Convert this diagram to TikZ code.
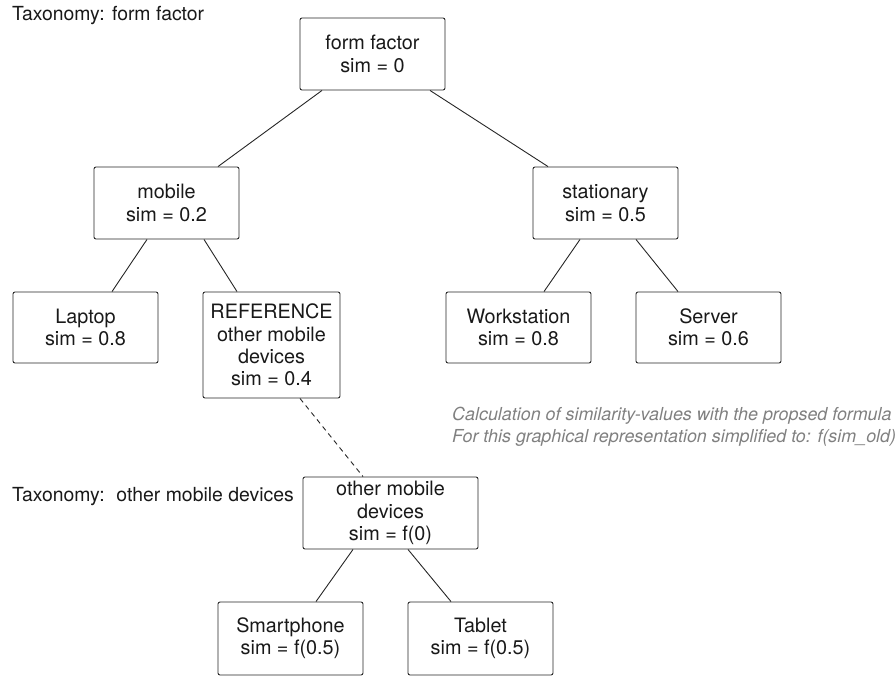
\documentclass[tikz,border=0pt]{standalone}
\usepackage{fontspec}
\setmainfont{TeX Gyre Heros}
\usetikzlibrary{calc}
\begin{document}
\begin{tikzpicture}[x=1pt,y=-1pt,
  box/.style={draw=black!85, line width=0.9pt, rounded corners=2pt, align=center, inner sep=0pt,
    font=\fontsize{19.8}{22.3}\selectfont, text=black!90, minimum width=145pt, minimum height=72pt},
  edge/.style={draw=black!85, line width=0.9pt},
  lbl/.style={anchor=west, inner sep=0pt, text=black!90, font=\fontsize{19.4}{21}\selectfont},
  note/.style={anchor=west, inner sep=0pt, align=left, text=black!50, font=\fontsize{17.9}{22}\selectfont\itshape}]
\useasboundingbox (0,0) rectangle (896,678);

\node[box] (ff) at (372.5,54) {form factor\\sim = 0};
\node[box] (mobile) at (166.5,203) {mobile\\sim = 0.2};
\node[box] (stat) at (605.5,203) {stationary\\sim = 0.5};
\node[box, minimum height=71pt] (laptop) at (85.5,327.5) {Laptop\\sim = 0.8};
\node[box, minimum width=137pt, minimum height=106pt] (ref) at (271.5,345) {REFERENCE\\other mobile\\devices\\sim = 0.4};
\node[box, minimum height=71pt] (work) at (518.5,327.5) {Workstation\\sim = 0.8};
\node[box, minimum height=71pt] (server) at (708.5,327.5) {Server\\sim = 0.6};
\node[box, minimum width=175pt] (omd) at (390.5,513) {other mobile\\devices\\sim = f(0)};
\node[box, minimum height=73pt] (smart) at (290.5,638.5) {Smartphone\\sim = f(0.5)};
\node[box, minimum height=73pt] (tablet) at (480.5,638.5) {Tablet\\sim = f(0.5)};

\node[lbl] (t1) at (12,16) {Taxonomy: form factor};
\node[lbl] (t2) at (12,497) {Taxonomy:\hspace{0.6em}other mobile devices};
\node[note] (n1) at (452,427) {Calculation of similarity-values with the propsed formula\\For this graphical representation simplified to: f(sim\_old)};

\draw[edge] ($(ff.south)+(-50.5,0)$) -- ($(mobile.north)+(51.5,0)$);
\draw[edge] ($(ff.south)+(57.5,0)$) -- ($(stat.north)+(-57.5,0)$);
\draw[edge] ($(mobile.south)+(-19.5,0)$) -- ($(laptop.north)+(26.5,0)$);
\draw[edge] ($(mobile.south)+(37.5,0)$) -- ($(ref.north)+(-34.5,0)$);
\draw[edge] ($(stat.south)+(-25.5,0)$) -- ($(work.north)+(25.5,0)$);
\draw[edge] ($(stat.south)+(30.5,0)$) -- ($(server.north)+(-30.5,0)$);
\draw[edge, dash pattern=on 5pt off 4pt] ($(ref.south)+(28.5,0)$) -- ($(omd.north)+(-27.5,0)$);
\draw[edge] ($(omd.south)+(-37.5,0)$) -- ($(smart.north)+(25.5,0)$);
\draw[edge] ($(omd.south)+(17.5,0)$) -- ($(tablet.north)+(-29.5,0)$);
\end{tikzpicture}
\end{document}
